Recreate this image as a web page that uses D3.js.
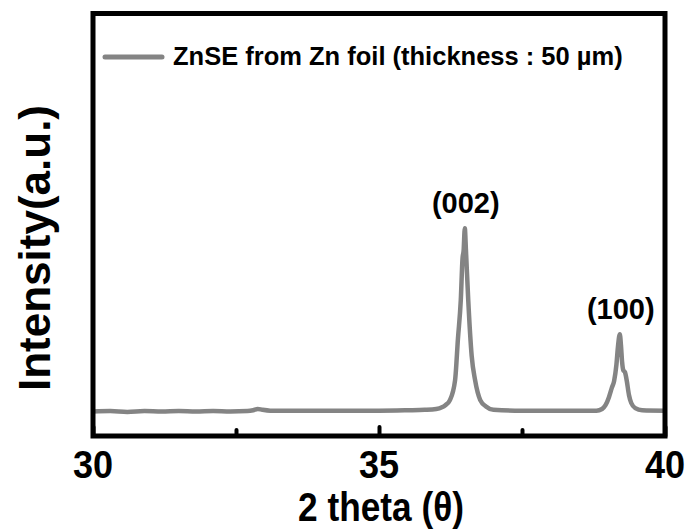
<!DOCTYPE html>
<html>
<head>
<meta charset="utf-8">
<script src="https://cdn.jsdelivr.net/npm/d3@7"></script>
<style>
  html, body { margin: 0; padding: 0; background: #fff; }
  svg { display: block; }
  text { font-family: "Liberation Sans", Arial, sans-serif; font-weight: bold; fill: #000; }
</style>
</head>
<body>
<svg id="chart" width="690" height="531"></svg>
<script>
// XRD pattern of ZnSE grown from Zn foil, 2θ = 30–40°
const twoTheta = [
  30.00, 30.30, 30.60, 30.90, 31.20, 31.50, 31.80, 32.10, 32.40, 32.70,
  32.80, 32.88, 32.96, 33.10, 33.50, 34.00, 34.50, 35.00, 35.50, 35.80,
  36.00, 36.10, 36.16, 36.24, 36.33, 36.38, 36.43, 36.46, 36.48, 36.50,
  36.52, 36.56, 36.62, 36.68, 36.77, 36.87, 37.00, 37.50, 38.00, 38.50,
  38.80, 38.90, 38.96, 39.02, 39.07, 39.11, 39.15, 39.18, 39.21, 39.23,
  39.25, 39.27, 39.30, 39.33, 39.37, 39.41, 39.48, 39.60, 40.00
];
const intensity = [
   58,  59,  57,  59,  58,  59,  58,  59,  58,  59,
   61,  64,  62,  60,  60,  60,  60,  60,  61,  62,
   64,  68,  73,  85, 132, 230, 322, 420, 440, 492,
  440, 322, 190, 132,  85,  70,  62,  60,  60,  60,
   60,  64,  73,  92, 114, 130, 168, 215, 241, 215,
  175, 156, 151, 132,  97,  78,  66,  61,  60
];

const seriesName = "ZnSE from Zn foil (thickness : 50 \u00b5m)";
const peakLabels = ["(002)", "(100)"];
const peakPositions = [36.50, 39.21];
const peakHeights = [492, 241];

const xDomain = [30, 40];
const yDomain = [0, 1000];
const majorTicks = [30, 35, 40];
const minorTicks = [32.5, 37.5];
const xTitle = "2 theta (\u03b8)";
const yTitle = "Intensity(a.u.)";

const lineColor = "#848484";

const svg = d3.select("#chart");
const plot = { left: 93, right: 665, top: 13.5, bottom: 436 };

const x = d3.scaleLinear().domain(xDomain).range([plot.left, plot.right]);
const y = d3.scaleLinear().domain(yDomain).range([plot.bottom, plot.top]);

// diffraction curve
const data = twoTheta.map((t, i) => [t, intensity[i]]);
const line = d3.line()
  .x(d => x(d[0]))
  .y(d => y(d[1]))
  .curve(d3.curveMonotoneX);

svg.append("path")
  .datum(data)
  .attr("d", line)
  .attr("fill", "none")
  .attr("stroke", lineColor)
  .attr("stroke-width", 4.5)
  .attr("stroke-linejoin", "round");

// frame
svg.append("rect")
  .attr("x", plot.left).attr("y", plot.top)
  .attr("width", plot.right - plot.left)
  .attr("height", plot.bottom - plot.top)
  .attr("fill", "none")
  .attr("stroke", "#000")
  .attr("stroke-width", 5);

// inward ticks on the bottom axis
const xAxisMajor = d3.axisBottom(x).tickValues(majorTicks).tickSize(-9).tickFormat("");
const xAxisMinor = d3.axisBottom(x).tickValues(minorTicks).tickSize(-6).tickFormat("");
[xAxisMajor, xAxisMinor].forEach(ax => {
  const g = svg.append("g").attr("transform", `translate(0,${plot.bottom})`).call(ax);
  g.select(".domain").remove();
  g.selectAll(".tick line").attr("stroke", "#000").attr("stroke-width", 4).attr("stroke-linecap", "round");
});

// tick labels (slightly condensed bold face)
svg.append("g").selectAll("text")
  .data(majorTicks)
  .join("text")
  .attr("transform", d => `translate(${x(d)},478) scale(0.95,1)`)
  .attr("text-anchor", "middle")
  .attr("font-size", 38)
  .text(d => d);

// axis titles
svg.append("text")
  .attr("transform", "translate(381,521) scale(0.86,1)")
  .attr("text-anchor", "middle")
  .attr("font-size", 41)
  .text(xTitle);

svg.append("text")
  .attr("transform", `translate(50,248) rotate(-90)`)
  .attr("text-anchor", "middle")
  .attr("font-size", 44)
  .text(yTitle);

// peak annotations
svg.append("g").selectAll("text")
  .data(peakLabels)
  .join("text")
  .attr("x", (d, i) => x(peakPositions[i]) + 1)
  .attr("y", (d, i) => y(peakHeights[i]) - 15)
  .attr("text-anchor", "middle")
  .attr("font-size", 29)
  .text(d => d);

// legend
svg.append("line")
  .attr("x1", 105).attr("x2", 162)
  .attr("y1", 57).attr("y2", 57)
  .attr("stroke", lineColor)
  .attr("stroke-width", 5)
  .attr("stroke-linecap", "round");

svg.append("text")
  .attr("x", 173)
  .attr("y", 65)
  .attr("font-size", 25.5)
  .text(seriesName);
</script>
</body>
</html>
